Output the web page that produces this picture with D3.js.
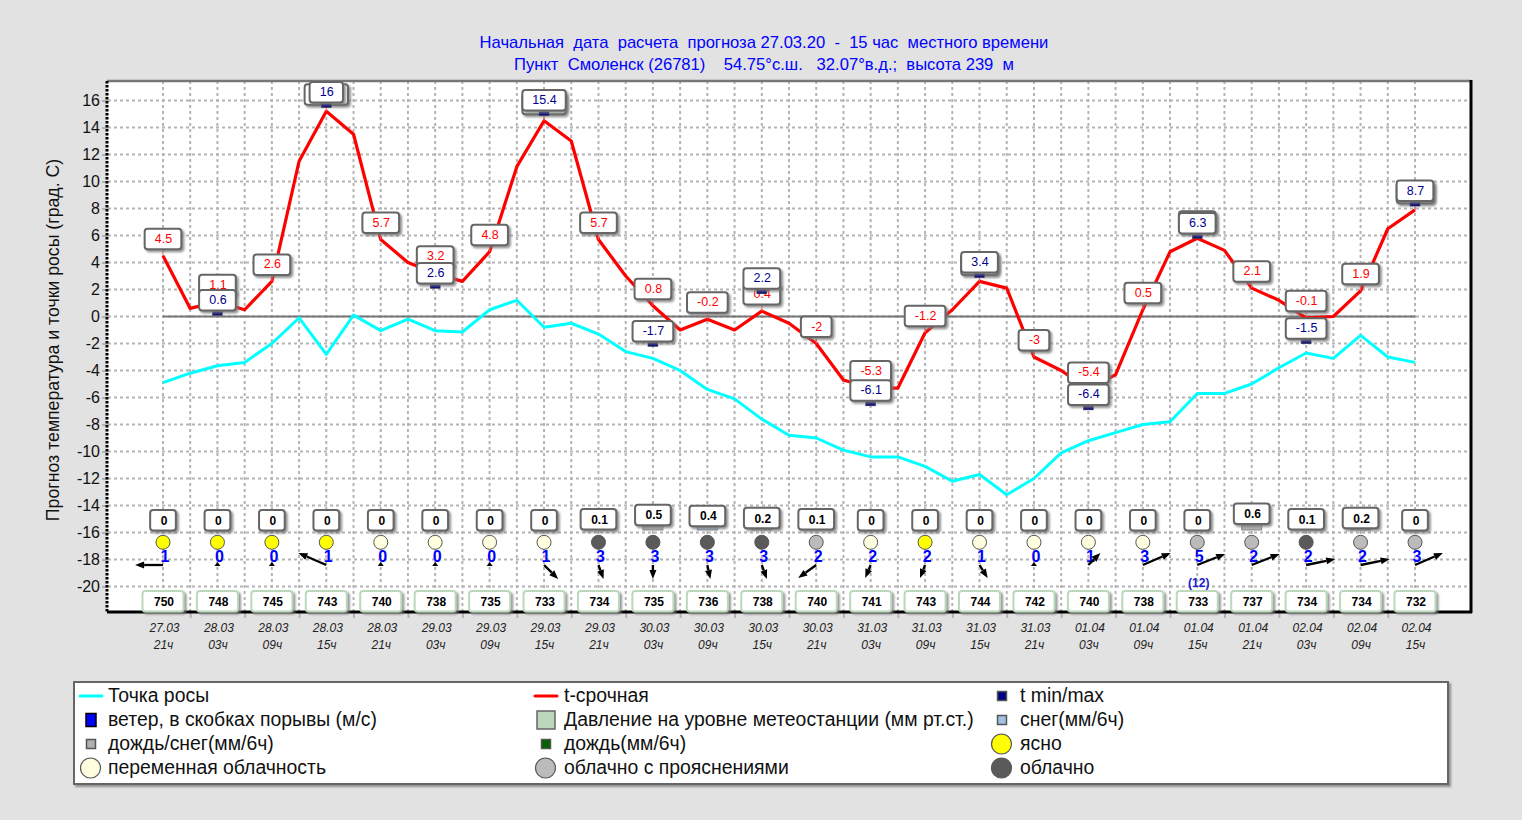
<!DOCTYPE html>
<html><head><meta charset="utf-8">
<script src="https://cdnjs.cloudflare.com/ajax/libs/d3/7.8.5/d3.min.js"></script>
<style>
html,body{margin:0;padding:0;background:#e2e2e2;overflow:hidden}
svg{display:block;font-family:"Liberation Sans",Arial,sans-serif}
</style></head><body>
<script>
const titleLines = ["Начальная  дата  расчета  прогноза 27.03.20  -  15 час  местного времени",
                    "Пункт  Смоленск (26781)    54.75°с.ш.   32.07°в.д.;  высота 239  м"];
const yAxisTitle = "Прогноз температура и точки росы (град. С)";
const yTicks = [16,14,12,10,8,6,4,2,0,-2,-4,-6,-8,-10,-12,-14,-16,-18,-20];
const tempSeries = [4.5,0.6,1.1,0.5,2.6,11.5,15.2,13.5,5.7,4.0,3.2,2.6,4.8,11.1,14.5,13.0,5.7,3.0,0.8,-1.0,-0.2,-1.0,0.4,-0.5,-2,-4.7,-5.3,-5.3,-1.2,0.5,2.6,2.1,-3,-4,-5.4,-4.3,0.5,4.8,5.8,4.9,2.1,1.2,-0.1,0,1.9,6.5,7.9];
const dewSeries = [-4.9,-4.2,-3.65,-3.4,-2.0,-0.1,-2.8,0.1,-1.05,-0.2,-1.05,-1.15,0.5,1.2,-0.8,-0.5,-1.3,-2.6,-3.1,-4.0,-5.4,-6.1,-7.6,-8.8,-9.0,-9.9,-10.4,-10.4,-11.1,-12.2,-11.7,-13.2,-12.0,-10.1,-9.2,-8.6,-8.0,-7.8,-5.7,-5.7,-5.0,-3.8,-2.7,-3.1,-1.4,-3.0,-3.4];
const extremeSteps = [2,6,10,14,18,22,26,30,34,38,42,46];
const extremeValues = [0.6,16,2.6,15.4,-1.7,2.2,-6.1,3.4,-6.4,6.3,-1.5,8.7];
const dates = ["27.03","28.03","28.03","28.03","28.03","29.03","29.03","29.03","29.03","30.03","30.03","30.03","30.03","31.03","31.03","31.03","31.03","01.04","01.04","01.04","01.04","02.04","02.04","02.04"];
const hours = ["21ч","03ч","09ч","15ч","21ч","03ч","09ч","15ч","21ч","03ч","09ч","15ч","21ч","03ч","09ч","15ч","21ч","03ч","09ч","15ч","21ч","03ч","09ч","15ч"];
const precip = [0,0,0,0,0,0,0,0,0.1,0.5,0.4,0.2,0.1,0,0,0,0,0,0,0,0.6,0.1,0.2,0];
const precipKind = ["m","m","m","m","m","m","m","m","m","m","s","m","m","m","m","m","m","m","m","m","m","m","m","m"];
const cloud = ["clear","clear","clear","clear","var","var","var","var","over","over","over","over","broken","var","clear","var","var","var","var","broken","broken","over","broken","broken"];
const wind = [1,0,0,1,0,0,0,1,3,3,3,3,2,2,2,1,0,1,3,5,2,2,2,3];
const gust = [null,null,null,null,null,null,null,null,null,null,null,null,null,null,null,null,null,null,null,12,null,null,null,null];
const windEast = [-0.93,0,0,-0.93,0,0,0,0.47,0.17,0,0.1,0.17,-0.6,-0.18,-0.17,0.27,0,0.4,0.93,0.93,0.93,0.97,0.97,0.93];
const windNorth = [0,0,0,0.86,0,0,0,-1,-1,-1,-1,-1,-0.93,-0.93,-0.93,-0.93,0,0.86,0.86,0.79,0.79,0.43,0.43,0.86];
const pressure = [750,748,745,743,740,738,735,733,734,735,736,738,740,741,743,744,742,740,738,733,737,734,734,732];
const cloudFill = {clear:"#ffff00",var:"#ffffe0",broken:"#bbbbbb",over:"#5a5a5a"};
const precipFill = {m:"#b0b0b0",s:"#a0c0e0"};

const W=1522,H=820;
const P={l:108,r:1471,t:81,b:612};
const svg=d3.select("body").append("svg").attr("width",W).attr("height",H);
const defs=svg.append("defs");
const f=defs.append("filter").attr("id","sh").attr("x","-20%").attr("y","-20%").attr("width","150%").attr("height","160%");
f.append("feDropShadow").attr("dx",2).attr("dy",2).attr("stdDeviation",1).attr("flood-color","#777").attr("flood-opacity",.8);

const x=d3.scaleLinear().domain([0,46]).range([163,1415]);
const y=d3.scaleLinear().domain([16,-20]).range([100.5,586.5]);
const px=i=>x(i*2);
const windX=d3.scaleLinear().domain([-1,1]).range([-30,30]);
const windY=d3.scaleLinear().domain([-1,1]).range([14,-14]);
const precipY=d3.scaleLinear().domain([0,1]).range([531,520.3]);

svg.append("rect").attr("x",P.l).attr("y",P.t).attr("width",P.r-P.l).attr("height",P.b-P.t).attr("fill","#fff");

// title
const tt=svg.append("g").attr("fill","#0000ff").attr("font-size",16.6).attr("text-anchor","middle");
tt.selectAll("text").data(titleLines).join("text").attr("x",764).attr("y",(d,i)=>47.5+i*22).attr("xml:space","preserve").style("white-space","pre").text(d=>d);

// y axis title
svg.append("text").attr("transform","translate(59,340) rotate(-90)").attr("text-anchor","middle").attr("font-size",17.7).attr("fill","#111").text(yAxisTitle);

// grid
const grid=svg.append("g").attr("stroke","#b4b4b4").attr("stroke-width",2).attr("stroke-dasharray","3 3").attr("fill","none");
grid.selectAll("line.h").data(yTicks).join("line").attr("class","h").attr("x1",P.l).attr("x2",P.r).attr("y1",d=>y(d)).attr("y2",d=>y(d));
grid.selectAll("line.v").data(d3.range(47)).join("line").attr("class","v").attr("x1",d=>x(d)).attr("x2",d=>x(d)).attr("y1",P.t).attr("y2",P.b);

// y axis
const ya=svg.append("g").attr("transform",`translate(${P.l},0)`).call(d3.axisLeft(y).tickValues(yTicks).tickFormat(d=>d).tickSize(6).tickPadding(2));
ya.select(".domain").remove();
ya.selectAll("line").attr("stroke","#b4b4b4").attr("stroke-width",2);
ya.selectAll("text").attr("font-size",16).attr("font-family","Liberation Sans").attr("fill","#111");

// x axis ticks (odd steps)
const xa=svg.append("g").attr("transform",`translate(0,${P.b})`).call(d3.axisBottom(x).tickValues(d3.range(1,47,2)).tickFormat("").tickSize(6));
xa.select(".domain").remove();
xa.selectAll("line").attr("stroke","#b4b4b4").attr("stroke-width",2);

// frame
svg.append("line").attr("x1",P.l-1).attr("x2",P.r).attr("y1",P.t).attr("y2",P.t).attr("stroke","#777").attr("stroke-width",2.5);
svg.append("line").attr("x1",P.r).attr("x2",P.r).attr("y1",P.t-1).attr("y2",P.b+1).attr("stroke","#000").attr("stroke-width",3);
svg.append("line").attr("x1",P.l-1).attr("x2",P.r+1).attr("y1",P.b).attr("y2",P.b).attr("stroke","#000").attr("stroke-width",3);
svg.append("line").attr("x1",P.l-1).attr("x2",P.l-1).attr("y1",P.t).attr("y2",P.b).attr("stroke","#000").attr("stroke-width",3).attr("stroke-dasharray","2.5 1.5");

// zero line
svg.append("line").attr("x1",x(0)).attr("x2",x(46)).attr("y1",y(0)).attr("y2",y(0)).attr("stroke","#777").attr("stroke-width",2);

// series
const line=d3.line().x((d,i)=>x(i)).y(d=>y(d));
svg.append("path").datum(dewSeries).attr("d",line).attr("fill","none").attr("stroke","#00ffff").attr("stroke-width",3).attr("stroke-linejoin","round");
svg.append("path").datum(tempSeries).attr("d",line).attr("fill","none").attr("stroke","#ff0000").attr("stroke-width",3.2).attr("stroke-linejoin","round");

// measure
const meas=svg.append("text").attr("font-size",12).attr("visibility","hidden");
const tw=(s,b)=>{meas.attr("font-weight",b?"bold":"normal").text(s);return meas.node().getComputedTextLength();};

function box(g,cx,top,h,w,txt,col,opts={}){
  g.append("rect").attr("x",cx-w/2).attr("y",top).attr("width",w).attr("height",h).attr("rx",3)
    .attr("fill","#fff").attr("stroke",opts.stroke||"#666").attr("stroke-width",2).attr("filter","url(#sh)");
  g.append("text").attr("x",cx+(opts.dx||0)).attr("y",top+h/2+(opts.bold?4.5:3.8)).attr("text-anchor","middle").attr("font-size",opts.fs||12.5)
    .attr("font-weight",opts.bold?"bold":"normal").attr("fill",col).text(txt);
}

// temperature labels
const lab=svg.append("g");
tempSeries.forEach((v,i)=>{
  if(i%2) return;
  const yy=y(v);
  lab.append("line").attr("x1",x(i)).attr("x2",x(i)).attr("y1",yy-7).attr("y2",yy).attr("stroke","#ff6060").attr("stroke-width",1);
  box(lab,x(i),yy-6.5-20.5,20.5,tw(String(v))+20,String(v),"#ff0000",{dx:.5});
});
// extreme labels
const ext=svg.append("g");
extremeSteps.forEach((s,k)=>{
  const v=extremeValues[k],yy=y(v);
  ext.append("rect").attr("x",x(s)-5).attr("y",yy+3).attr("width",10).attr("height",4).attr("fill","#000080").attr("stroke","#444").attr("stroke-width",.5);
  box(ext,x(s),yy+2-20.5,20.5,tw(String(v))+20,String(v),"#000090",{dx:.5});
});

// bottom rows
const rows=svg.append("g");
d3.range(24).forEach(i=>{
  const cx=px(i),p=precip[i],top=precipY(p);
  if(p>0.15) rows.append("rect").attr("x",cx-10).attr("y",top-3).attr("width",20).attr("height",530-top+3).attr("fill",precipFill[precipKind[i]]).attr("stroke","#888").attr("stroke-width",1);
  box(rows,cx,top-21,20.5,tw(String(p),true)+19,String(p),"#000",{bold:true,dx:1,fs:12});
  rows.append("circle").attr("cx",cx).attr("cy",542.3).attr("r",7).attr("fill",cloudFill[cloud[i]]).attr("stroke","#555").attr("stroke-width",1);
  rows.append("text").attr("x",cx+2).attr("y",561.5).attr("text-anchor","middle").attr("font-size",16).attr("font-weight","bold").attr("fill","#0000ff").text(wind[i]);
  if(gust[i]!=null) rows.append("text").attr("x",cx+1.5).attr("y",587).attr("text-anchor","middle").attr("font-size",12).attr("font-weight","bold").attr("fill","#2020d0").text(`(${gust[i]})`);
  // arrow
  const dx=windX(windEast[i]),dy=windY(windNorth[i]),len=Math.hypot(dx,dy),y0=565;
  if(wind[i]===0){
    rows.append("path").attr("d",`M${cx-3},${y0+1}L${cx},${y0-3}L${cx+3},${y0+1}Z`).attr("fill","#000");
  } else {
    const ux=dx/len,uy=dy/len,ex=cx+dx,ey=y0+dy,bx=ex-ux*9,by=ey-uy*9;
    rows.append("line").attr("x1",cx).attr("y1",y0).attr("x2",bx).attr("y2",by).attr("stroke","#000").attr("stroke-width",2.3);
    rows.append("path").attr("d",`M${ex},${ey}L${bx-uy*3.5},${by+ux*3.5}L${bx+uy*3.5},${by-ux*3.5}Z`).attr("fill","#000");
  }
  box(rows,cx,591,20.5,tw(String(pressure[i]),true)+21,String(pressure[i]),"#000",{bold:true,dx:1,stroke:"#bcd8bc",fs:12});
  const d=svg.append("g").attr("font-size",12).attr("font-style","italic").attr("fill","#222").attr("text-anchor","middle");
  d.append("text").attr("x",cx+1.5).attr("y",632).text(dates[i]);
  d.append("text").attr("x",cx+0.5).attr("y",649).text(hours[i]);
});

// legend
svg.append("rect").attr("x",74).attr("y",682).attr("width",1374).attr("height",102).attr("fill","#fff").attr("stroke","#666").attr("stroke-width",2).attr("filter","url(#sh)");
const legendRows=[696,720,744,768];
const leg=svg.append("g");
const legendItems=[
 {t:"Точка росы",c:0,r:0,k:"line",col:"#00ffff"},
 {t:"ветер, в скобках порывы (м/с)",c:0,r:1,k:"rect",col:"#0000ff",w:10,h:13,st:"#000"},
 {t:"дождь/снег(мм/6ч)",c:0,r:2,k:"rect",col:"#b0b0b0",w:9,h:9,st:"#555"},
 {t:"переменная облачность",c:0,r:3,k:"circ",col:cloudFill.var},
 {t:"t-срочная",c:1,r:0,k:"line",col:"#ff0000"},
 {t:"Давление на уровне метеостанции (мм рт.ст.)",c:1,r:1,k:"rect",col:"#bcd8bc",w:18,h:18,st:"#666"},
 {t:"дождь(мм/6ч)",c:1,r:2,k:"rect",col:"#006400",w:9,h:9,st:"#555"},
 {t:"облачно с прояснениями",c:1,r:3,k:"circ",col:cloudFill.broken},
 {t:"t min/max",c:2,r:0,k:"rect",col:"#000080",w:9,h:9,st:"#555"},
 {t:"снег(мм/6ч)",c:2,r:1,k:"rect",col:"#a0c0e0",w:9,h:9,st:"#555"},
 {t:"ясно",c:2,r:2,k:"circ",col:cloudFill.clear},
 {t:"облачно",c:2,r:3,k:"circ",col:cloudFill.over}
];
const colSym=[91,546,1002],colTxt=[108,564,1020];
legendItems.forEach(d=>{
  const sx=colSym[d.c],sy=legendRows[d.r];
  if(d.k==="line") leg.append("line").attr("x1",sx-11).attr("x2",sx+11).attr("y1",sy).attr("y2",sy).attr("stroke",d.col).attr("stroke-width",3).attr("stroke-linecap","round");
  if(d.k==="rect") leg.append("rect").attr("x",sx-d.w/2).attr("y",sy-d.h/2).attr("width",d.w).attr("height",d.h).attr("fill",d.col).attr("stroke",d.st).attr("stroke-width",1.5);
  if(d.k==="circ") leg.append("circle").attr("cx",sx-0.5).attr("cy",sy).attr("r",10).attr("fill",d.col).attr("stroke","#555").attr("stroke-width",1.2);
  leg.append("text").attr("x",colTxt[d.c]).attr("y",sy+6).attr("font-size",19.4).attr("fill","#111").text(d.t);
});
</script>
</body></html>
